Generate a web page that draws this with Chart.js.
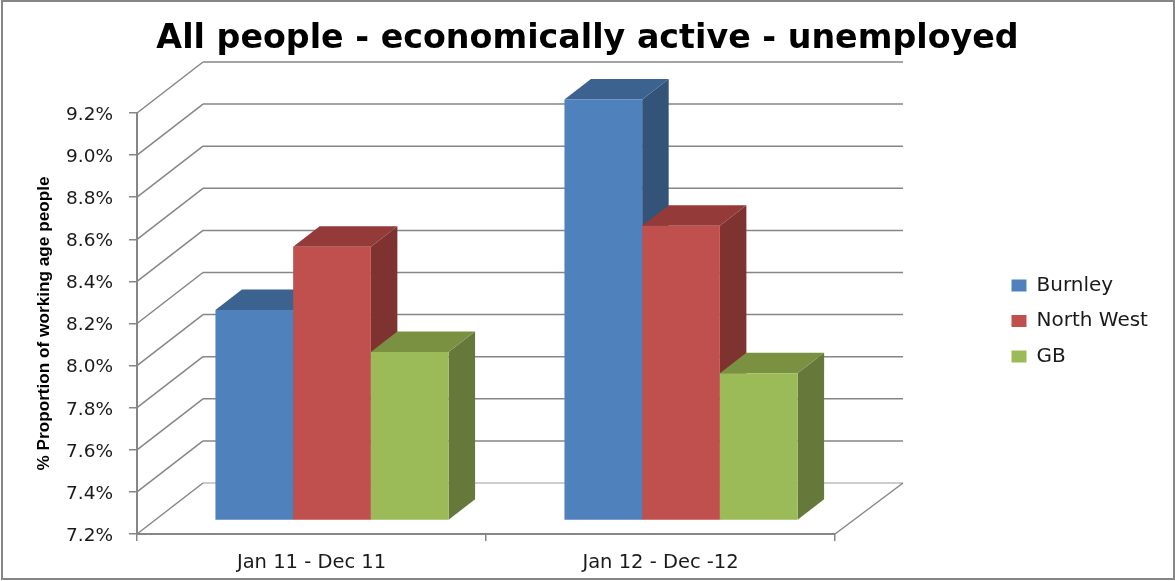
<!DOCTYPE html>
<html>
<head>
<meta charset="utf-8">
<style>html,body{margin:0;padding:0;background:#fff}#w{width:1175px;height:581px}</style>
<script src="https://cdn.jsdelivr.net/npm/chart.js@4"></script>
</head>
<body>
<div id="w"><canvas id="c" width="1175" height="581"></canvas></div>
<script>
const categories = ["Jan 11 - Dec 11", "Jan 12 - Dec -12"];
const burnley = [8.2, 9.2];
const northWest = [8.5, 8.6];
const gb = [8.0, 7.9];
const seriesNames = ["Burnley", "North West", "GB"];
const axisMin = 7.2;
const axisMax = 9.2;
const frontColors = ["#4F81BD", "#C0504D", "#9BBB59"];
const sideColors = ["#345379", "#7E3331", "#66783A"];
const topColors = ["#3C6290", "#943A38", "#7A9142"];
const axisColor = "#868686";
const wall = {dx: 66, rightDx: 68, dy: -51};
const barShift = {dx: 20.5, dy: -13.5};
const barDepth = {dx: 26.5, dy: -20.5};

const box3d = {
  id: "box3d",
  afterLayout(chart) {
    const lg = chart.legend;
    lg.left = 996;
    lg.right = 996 + lg.width;
    lg.top += 26;
    lg.bottom += 26;
    chart.titleBlock.left = 0;
    chart.titleBlock.right = chart.width;
    chart.titleBlock.top += 2;
    chart.titleBlock.bottom += 2;
  },
  beforeDraw(chart) {
    const c = chart.ctx;
    c.save();
    c.fillStyle = "#fff";
    c.fillRect(0, 0, chart.width, chart.height);
    c.strokeStyle = axisColor;
    c.lineWidth = 2;
    c.strokeRect(2, 1, chart.width - 3, chart.height - 3);
    c.restore();
  },
  beforeDatasetsDraw(chart) {
    const c = chart.ctx, a = chart.chartArea, y = chart.scales.y;
    c.save();
    c.lineWidth = 1.5;
    y.ticks.forEach(t => {
      const py = y.getPixelForValue(t.value);
      c.strokeStyle = t.value === y.min ? "#bdbdbd" : axisColor;
      c.beginPath();
      c.moveTo(a.left + wall.dx, py + wall.dy);
      c.lineTo(a.right + wall.rightDx, py + wall.dy);
      c.stroke();
      c.strokeStyle = axisColor;
      c.beginPath();
      c.moveTo(a.left, py);
      c.lineTo(a.left + wall.dx, py + wall.dy);
      c.stroke();
    });
    const by = y.getPixelForValue(y.min);
    c.beginPath();
    c.moveTo(a.right, by);
    c.lineTo(a.right + wall.rightDx, by + wall.dy);
    c.stroke();
    const ds = chart.data.datasets;
    categories.forEach((_, i) => {
      ds.forEach((d, k) => {
        const e = chart.getDatasetMeta(k).data[i];
        const l = e.x - e.width / 2 + barShift.dx, r = e.x + e.width / 2 + barShift.dx;
        const t = e.y + barShift.dy, b = e.base + barShift.dy;
        c.fillStyle = sideColors[k];
        c.beginPath();
        c.moveTo(r, t); c.lineTo(r + barDepth.dx, t + barDepth.dy);
        c.lineTo(r + barDepth.dx, b + barDepth.dy); c.lineTo(r, b);
        c.closePath(); c.fill();
        c.fillStyle = topColors[k];
        c.beginPath();
        c.moveTo(l, t); c.lineTo(l + barDepth.dx, t + barDepth.dy);
        c.lineTo(r + barDepth.dx, t + barDepth.dy); c.lineTo(r, t);
        c.closePath(); c.fill();
      });
    });
    c.restore();
    c.save();
    c.translate(barShift.dx, barShift.dy);
  },
  afterDatasetsDraw(chart) {
    chart.ctx.restore();
  }
};

new Chart(document.getElementById("c"), {
  type: "bar",
  data: {
    labels: categories,
    datasets: [burnley, northWest, gb].map((v, k) => ({
      label: seriesNames[k],
      data: v,
      base: axisMin,
      backgroundColor: frontColors[k],
      borderWidth: 0,
      clip: false,
      categoryPercentage: 0.668,
      barPercentage: 1
    }))
  },
  plugins: [box3d],
  options: {
    responsive: false,
    animation: false,
    devicePixelRatio: 1,
    layout: {padding: {left: 34, top: 17, right: 178, bottom: 8}},
    plugins: {
      tooltip: {enabled: false},
      title: {
        display: true,
        text: "All people - economically active - unemployed",
        color: "#000",
        font: {family: "'DejaVu Sans'", size: 33.3, weight: "bold"},
        padding: {top: 0, bottom: 56.04},
        fullSize: true
      },
      legend: {
        position: "right",
        labels: {
          font: {family: "'DejaVu Sans'", size: 20},
          color: "#1a1a1a",
          boxWidth: 15,
          boxHeight: 12,
          padding: 15.5
        }
      }
    },
    scales: {
      x: {
        afterFit(s) { s.height = 39; },
        grid: {display: true, drawOnChartArea: false, color: axisColor, lineWidth: 1.5, tickLength: 7, offset: true},
        border: {color: axisColor, width: 2},
        ticks: {color: "#1a1a1a", font: {family: "'DejaVu Sans'", size: 19.5}, padding: 10, maxRotation: 0}
      },
      y: {
        min: axisMin, max: axisMax,
        afterFit(s) { s.width = 103; },
        grid: {display: true, drawOnChartArea: false, color: axisColor, lineWidth: 1.5, tickLength: 8},
        border: {color: axisColor, width: 2},
        title: {
          display: true,
          text: "% Proportion of working age people",
          color: "#000",
          font: {family: "'Liberation Sans'", size: 17.2, weight: "bold"},
          padding: {top: 0, bottom: 0}
        },
        ticks: {
          stepSize: 0.2,
          color: "#1a1a1a",
          font: {family: "'DejaVu Sans'", size: 18.5},
          padding: 16,
          labelOffset: 2,
          callback: v => v.toFixed(1) + "%"
        }
      }
    }
  }
});
</script>
</body>
</html>
